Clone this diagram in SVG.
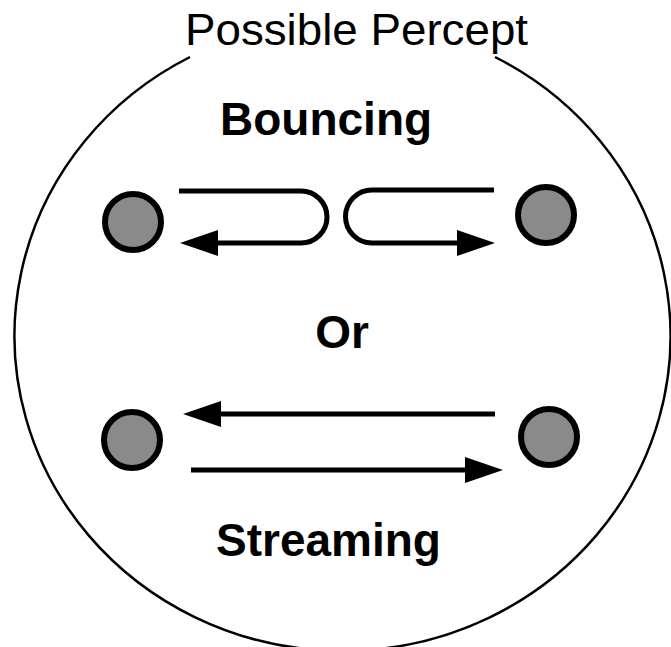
<svg xmlns="http://www.w3.org/2000/svg" width="671" height="647" viewBox="0 0 671 647">
  <style>
    .title { font-family: "Liberation Sans", Arial, sans-serif; font-size: 44px; fill: #000; }
    .label { font-family: "Liberation Sans", Arial, sans-serif; font-size: 46px; font-weight: bold; fill: #000; }
    .ball { fill: #8a8a8a; stroke: #000; stroke-width: 6; }
    .path { fill: none; stroke: #000; stroke-width: 5; }
    .frame { fill: none; stroke: #000; stroke-width: 2.5; }
  </style>
  <defs>
    <marker id="head" viewBox="0 0 38 26" refX="0" refY="13" markerWidth="38" markerHeight="26" markerUnits="userSpaceOnUse" orient="auto">
      <path d="M0,0 L38,13 L0,26 Z" fill="#000"/>
    </marker>
  </defs>

  <rect width="671" height="647" fill="#fff"/>

  <!-- enclosing boundary, open at the top under the title -->
  <g id="frame">
    <path class="frame" d="M 190 57 A 328 315 0 1 0 495 57"/>
  </g>

  <g id="title">
    <text class="title" x="185" y="45" textLength="343" lengthAdjust="spacingAndGlyphs">Possible Percept</text>
  </g>

  <g id="label-bouncing">
    <text class="label" x="220" y="135">Bouncing</text>
  </g>
  <g id="label-or">
    <text class="label" x="342" y="348" text-anchor="middle">Or</text>
  </g>
  <g id="label-streaming">
    <text class="label" x="216" y="556">Streaming</text>
  </g>

  <!-- balls -->
  <g id="ball-top-left"><circle class="ball" cx="133" cy="222" r="28"/></g>
  <g id="ball-top-right"><circle class="ball" cx="546" cy="215" r="28"/></g>
  <g id="ball-bottom-left"><circle class="ball" cx="132" cy="440" r="28"/></g>
  <g id="ball-bottom-right"><circle class="ball" cx="549" cy="437" r="28"/></g>

  <!-- motion paths -->
  <g id="connectors">
    <path class="path" d="M 179 191 H 301 A 26 26 0 0 1 301 243 H 218" marker-end="url(#head)"/>
    <path class="path" d="M 494 190 H 372 A 26.5 26.5 0 0 0 372 243 H 457" marker-end="url(#head)"/>
    <path class="path" d="M 495 414 H 221" marker-end="url(#head)"/>
    <path class="path" d="M 191 470 H 465" marker-end="url(#head)"/>
  </g>
</svg>
